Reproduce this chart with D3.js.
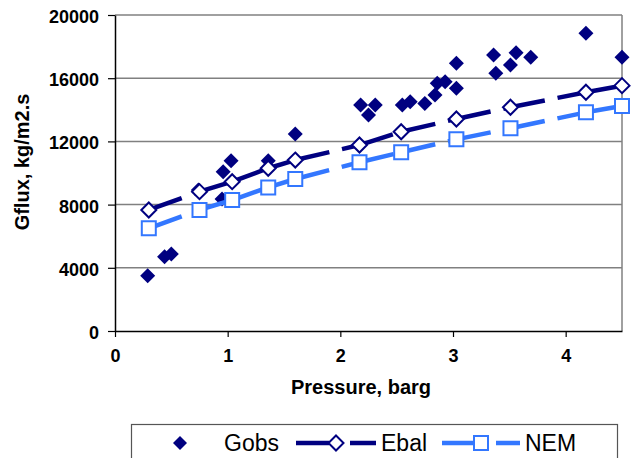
<!DOCTYPE html>
<html>
<head>
<meta charset="utf-8">
<script src="https://cdn.jsdelivr.net/npm/d3@7"></script>
<style>
  body { margin: 0; background: #fff; }
  svg { display: block; }
  text { font-family: "Liberation Sans", Arial, sans-serif; }
</style>
</head>
<body>
<svg id="chart" width="632" height="458"></svg>
<script>
// Observed mass flux (Gobs) against pressure
const obsPressure = [0.29, 0.44, 0.50, 0.74, 0.95, 0.96, 1.03, 1.36, 1.60,
                     2.18, 2.25, 2.31, 2.55, 2.62, 2.75, 2.84, 2.86, 2.93, 3.03, 3.03,
                     3.36, 3.38, 3.51, 3.56, 3.69, 4.18, 4.50];
const obsFlux = [3500, 4700, 4870, 8920, 8350, 10080, 10780, 10780, 12470,
                 14300, 13670, 14300, 14300, 14510, 14400, 14940, 15680, 15780, 15360, 16940,
                 17470, 16310, 16840, 17610, 17320, 18840, 17320];

// Model predictions at the test pressures
const modelPressure = [0.30, 0.75, 1.04, 1.36, 1.60, 2.17, 2.54, 3.03, 3.51, 4.18, 4.50];
const ebalFlux = [7660, 8820, 9450, 10300, 10820, 11770, 12610, 13420, 14160, 15110, 15530];
const nemFlux  = [6500, 7660, 8290, 9090, 9620, 10680, 11310, 12130, 12830, 13840, 14240];

const xTicks = [0, 1, 2, 3, 4];
const yTicks = [0, 4000, 8000, 12000, 16000, 20000];
const seriesNames = ["Gobs", "Ebal", "NEM"];

const NAVY = "#000080";
const LIGHT = "#3377ff";
const GRID = "#808080";

const svg = d3.select("#chart");

const x = d3.scaleLinear().domain([0, 4.5]).range([115, 622]);
const y = d3.scaleLinear().domain([0, 20000]).range([331, 15]);

// Horizontal gridlines and right-hand frame
svg.append("g").selectAll("line")
  .data(yTicks.filter(d => d > 0))
  .join("line")
  .attr("x1", x(0)).attr("x2", x(4.5))
  .attr("y1", d => y(d)).attr("y2", d => y(d))
  .attr("stroke", GRID).attr("stroke-width", 1.5);

svg.append("line")
  .attr("x1", x(4.5)).attr("x2", x(4.5))
  .attr("y1", y(0)).attr("y2", y(20000))
  .attr("stroke", GRID).attr("stroke-width", 1.5);

// Axes
const yAxis = svg.append("g")
  .attr("transform", `translate(${x(0)},0)`)
  .call(d3.axisLeft(y).tickValues(yTicks).tickSize(7).tickSizeOuter(0).tickPadding(9)
        .tickFormat(d3.format("d")));
const xAxis = svg.append("g")
  .attr("transform", `translate(0,${y(0)})`)
  .call(d3.axisBottom(x).tickValues(xTicks).tickSize(6).tickSizeOuter(0).tickPadding(12)
        .tickFormat(d3.format("d")));

[xAxis, yAxis].forEach(g => {
  g.select(".domain").attr("stroke", "#000").attr("stroke-width", 1.5);
  g.selectAll(".tick line").attr("stroke", "#000").attr("stroke-width", 1.2);
  g.selectAll(".tick text")
    .attr("fill", "#000")
    .style("font-family", '"Liberation Sans", Arial, sans-serif')
    .style("font-size", "18px")
    .style("font-weight", "bold");
});
yAxis.selectAll(".tick text").attr("dy", "0.42em");

// Axis titles
svg.append("text")
  .attr("transform", "translate(29,162) rotate(-90)")
  .attr("text-anchor", "middle")
  .style("font-size", "20px").style("font-weight", "bold")
  .text("Gflux, kg/m2.s");

svg.append("text")
  .attr("x", 361).attr("y", 394)
  .attr("text-anchor", "middle")
  .style("font-size", "20px").style("font-weight", "bold")
  .text("Pressure, barg");

// Marker shapes
const diamondPath = r => `M0,${-r}L${r},0L0,${r}L${-r},0Z`;
const squarePath = r => `M${-r},${-r}H${r}V${r}H${-r}Z`;

// Gobs: filled diamonds
const obs = obsPressure.map((p, i) => ({ p, g: obsFlux[i] }));
svg.append("g").selectAll("path")
  .data(obs)
  .join("path")
  .attr("d", diamondPath(7.5))
  .attr("transform", d => `translate(${x(d.p)},${y(d.g)})`)
  .attr("fill", NAVY);

// Model series: dashed lines (pattern restarts at every point) with open markers
function drawModel(values, color, shape) {
  const pts = modelPressure.map((p, i) => ({ p, g: values[i] }));
  const g = svg.append("g");
  g.selectAll("line")
    .data(d3.pairs(pts))
    .join("line")
    .attr("x1", d => x(d[0].p)).attr("y1", d => y(d[0].g))
    .attr("x2", d => x(d[1].p)).attr("y2", d => y(d[1].g))
    .attr("stroke", color).attr("stroke-width", 4.5)
    .attr("stroke-dasharray", "35,13");
  g.selectAll("path")
    .data(pts)
    .join("path")
    .attr("d", shape)
    .attr("transform", d => `translate(${x(d.p)},${y(d.g)})`)
    .attr("fill", "#fff").attr("stroke", color).attr("stroke-width", 2);
}
drawModel(ebalFlux, NAVY, diamondPath(7.5));
drawModel(nemFlux, LIGHT, squarePath(7));

// Legend
const legend = svg.append("g");
legend.append("rect")
  .attr("x", 131.5).attr("y", 424.5).attr("width", 486).attr("height", 50)
  .attr("fill", "#fff").attr("stroke", "#555").attr("stroke-width", 1.2);

const ly = 443;
legend.append("path").attr("d", diamondPath(7))
  .attr("transform", `translate(180,${ly})`).attr("fill", NAVY);

legend.append("line").attr("x1", 296).attr("x2", 376).attr("y1", ly).attr("y2", ly)
  .attr("stroke", NAVY).attr("stroke-width", 4.5).attr("stroke-dasharray", "33,21");
legend.append("path").attr("d", diamondPath(7.5))
  .attr("transform", `translate(336,${ly})`)
  .attr("fill", "#fff").attr("stroke", NAVY).attr("stroke-width", 2);

legend.append("line").attr("x1", 442).attr("x2", 520).attr("y1", ly).attr("y2", ly)
  .attr("stroke", LIGHT).attr("stroke-width", 4.5).attr("stroke-dasharray", "33,21");
legend.append("path").attr("d", squarePath(7))
  .attr("transform", `translate(481,${ly})`)
  .attr("fill", "#fff").attr("stroke", LIGHT).attr("stroke-width", 2);

const labelX = [224, 381, 525];
legend.selectAll("text.lbl")
  .data(seriesNames)
  .join("text")
  .attr("class", "lbl")
  .attr("x", (d, i) => labelX[i]).attr("y", ly + 8)
  .style("font-size", "23px")
  .text(d => d);
</script>
</body>
</html>
